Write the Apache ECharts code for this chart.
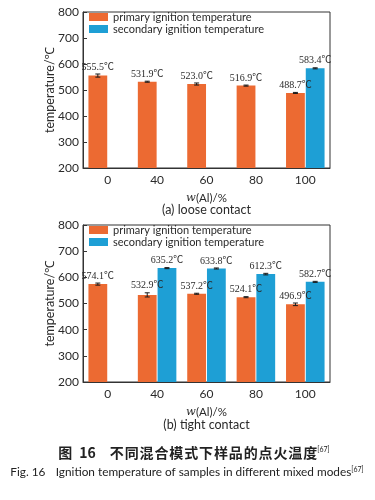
<!DOCTYPE html>
<html><head><meta charset="utf-8">
<script src="https://cdn.jsdelivr.net/npm/echarts@6/dist/echarts.min.js"></script>
<style>html,body{margin:0;padding:0;background:#fff}#c{width:375px;height:500px}</style>
</head><body><div id="c"></div>
<script>
const categories = ['0', '40', '60', '80', '100'];
const seriesNames = ['primary ignition temperature', 'secondary ignition temperature'];
const yMin = 200, yMax = 800, yStep = 100;
const loosePrimary = [555.5, 531.9, 523.0, 516.9, 488.7];
const looseSecondary = [null, null, null, null, 583.4];
const loosePrimaryErr = [6, 2, 4, 2, 2];
const looseSecondaryErr = [null, null, null, null, 2];
const tightPrimary = [574.1, 532.9, 537.2, 524.1, 496.9];
const tightSecondary = [null, 635.2, 633.8, 612.3, 582.7];
const tightPrimaryErr = [4, 8, 2, 2, 5];
const tightSecondaryErr = [null, 2, 2, 3, 2];
const subtitles = ['(a) loose contact', '(b) tight contact'];
const captionCN = ['图', '16', '不同混合模式下样品的点火温度', '[67]'];
const captionEN = ['Fig. 16', 'Ignition temperature of samples in different mixed modes', '[67]'];

const ORANGE = '#EC6A32', BLUE = '#1E9FD5', TXT = '#2a2a2a';
const FONT = 'Lato, "Noto Sans", "Noto Sans CJK SC", sans-serif';
const LFONT = '"Liberation Serif", "Noto Sans CJK SC", serif';
const BAR_GAP = 0.05, CAT_GAP = 0.22;

function errData(vals, errs, k) {
  const out = [];
  vals.forEach((v, i) => { if (v != null) out.push([categories[i], v, errs[i], k]); });
  return out;
}
function renderErr(params, api) {
  const v = api.value(1), e = api.value(2), k = api.value(3);
  const band = api.size([1, 0])[0];
  const n = 2;
  const w = band * (1 - CAT_GAP) / (n + (n - 1) * BAR_GAP);
  const total = w * n + w * BAR_GAP * (n - 1);
  const off = -total / 2 + w / 2 + k * w * (1 + BAR_GAP);
  const top = api.coord([api.value(0), v + e]);
  const bot = api.coord([api.value(0), v - e]);
  const x = top[0] + off;
  const cap = 2.5;
  const ls = { stroke: '#1a1a1a', lineWidth: 1 };
  return { type: 'group', children: [
    { type: 'line', shape: { x1: x, y1: top[1], x2: x, y2: bot[1] }, style: ls },
    { type: 'line', shape: { x1: x - cap, y1: top[1], x2: x + cap, y2: top[1] }, style: ls },
    { type: 'line', shape: { x1: x - cap, y1: bot[1], x2: x + cap, y2: bot[1] }, style: ls },
    { type: 'text', x: x, y: top[1] - 2, style: { text: v.toFixed(1) + '℃', align: 'center', verticalAlign: 'bottom', fontSize: 10, fill: TXT, fontFamily: LFONT } }
  ]};
}

const grids = [
  { left: 83, top: 12, width: 247, height: 156 },
  { left: 83, top: 225, width: 247, height: 157 }
];
const sets = [
  [loosePrimary, looseSecondary, loosePrimaryErr, looseSecondaryErr],
  [tightPrimary, tightSecondary, tightPrimaryErr, tightSecondaryErr]
];

const option = {
  animation: false,
  textStyle: { fontFamily: FONT },
  grid: grids.map(g => Object.assign({ show: true, borderColor: '#333', borderWidth: 1, containLabel: false }, g)),
  legend: grids.map(g => ({
    data: seriesNames, orient: 'vertical', left: g.left + 1, top: g.top - 6,
    itemWidth: 19, itemHeight: 8, itemGap: 0, icon: 'rect',
    textStyle: { fontSize: 11, lineHeight: 12, color: TXT, fontFamily: FONT }
  })),
  xAxis: grids.map((g, i) => ({
    type: 'category', gridIndex: i, data: categories,
    axisLine: { lineStyle: { color: '#333' } },
    axisTick: { inside: true, alignWithLabel: true, length: 4, lineStyle: { color: '#333' } },
    axisLabel: { fontSize: 12, color: TXT, margin: 6, fontFamily: FONT },
    name: '{i|w}(Al)/%', nameLocation: 'middle', nameGap: 24, nameMoveOverlap: false,
    nameTextStyle: { fontSize: 11.5, color: TXT, fontFamily: FONT, rich: { i: { fontStyle: 'italic', fontSize: 11.5, color: TXT, fontFamily: '"DejaVu Serif", serif' } } }
  })),
  yAxis: grids.map((g, i) => ({
    type: 'value', gridIndex: i, min: yMin, max: yMax, interval: yStep,
    axisLine: { show: true, lineStyle: { color: '#333' } },
    axisTick: { show: true, inside: true, length: 4, lineStyle: { color: '#333' } },
    splitLine: { show: false },
    axisLabel: { fontSize: 12, color: TXT, margin: 4, fontFamily: FONT },
    name: 'temperature/℃', nameLocation: 'middle', nameGap: 27, nameMoveOverlap: false,
    nameTextStyle: { fontSize: 12.5, color: TXT, fontFamily: FONT }
  })),
  series: [],
  graphic: []
};

sets.forEach((s, i) => {
  option.series.push(
    { name: seriesNames[0], type: 'bar', xAxisIndex: i, yAxisIndex: i, data: s[0], itemStyle: { color: ORANGE }, barGap: (BAR_GAP * 100) + '%', barCategoryGap: (CAT_GAP * 100) + '%' },
    { name: seriesNames[1], type: 'bar', xAxisIndex: i, yAxisIndex: i, data: s[1], itemStyle: { color: BLUE }, barGap: (BAR_GAP * 100) + '%', barCategoryGap: (CAT_GAP * 100) + '%' },
    { type: 'custom', xAxisIndex: i, yAxisIndex: i, renderItem: renderErr, data: errData(s[0], s[2], 0).concat(errData(s[1], s[3], 1)), z: 5, encode: { x: 0, y: 1 } }
  );
});

option.graphic = [
  { type: 'text', x: 206.5, y: 210, style: { text: subtitles[0], align: 'center', verticalAlign: 'middle', fontSize: 12.5, fill: TXT, fontFamily: FONT } },
  { type: 'text', x: 206.5, y: 425, style: { text: subtitles[1], align: 'center', verticalAlign: 'middle', fontSize: 12.5, fill: TXT, fontFamily: FONT } },
  { type: 'text', x: 194, y: 453, style: {
      text: captionCN[0] + '\u2002' + captionCN[1] + '\u2003' + captionCN[2].split('').join('\u200A') + '{s|' + captionCN[3] + '}',
      align: 'center', verticalAlign: 'middle', fontSize: 14, fontWeight: 'bold', fill: '#222', fontFamily: '"Noto Sans CJK SC", sans-serif',
      rich: { s: { fontSize: 7, verticalAlign: 'top', fill: '#222', fontWeight: 'normal', fontFamily: FONT } } } },
  { type: 'text', x: 187, y: 472, style: {
      text: captionEN[0] + '\u2003\u2009' + captionEN[1] + '{s|' + captionEN[2] + '}',
      align: 'center', verticalAlign: 'middle', fontSize: 11.8, fill: '#222', fontFamily: FONT,
      rich: { s: { fontSize: 7, verticalAlign: 'top', fill: '#222', fontFamily: FONT } } } }
];

const chart = echarts.init(document.getElementById('c'), null, { renderer: 'canvas' });
chart.setOption(option);
</script>
</body></html>
